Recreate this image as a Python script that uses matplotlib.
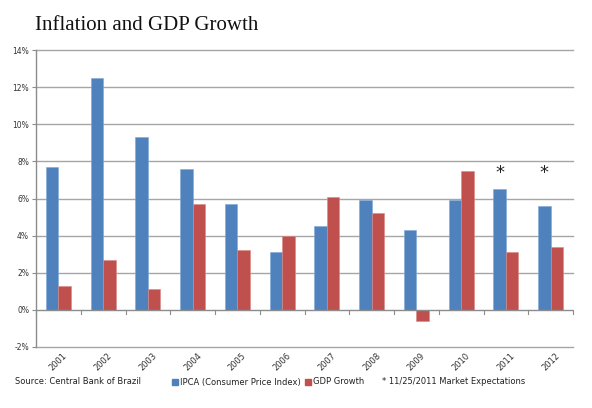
import matplotlib
matplotlib.use('Agg')
import matplotlib.pyplot as plt
import numpy as np

# data
years = ['2001', '2002', '2003', '2004', '2005', '2006',
         '2007', '2008', '2009', '2010', '2011', '2012']
ipca = [7.7, 12.5, 9.3, 7.6, 5.7, 3.1, 4.5, 5.9, 4.3, 5.9, 6.5, 5.6]
gdp = [1.3, 2.7, 1.1, 5.7, 3.2, 4.0, 6.1, 5.2, -0.6, 7.5, 3.1, 3.4]
expected = ['2011', '2012']
yticks = [-2, 0, 2, 4, 6, 8, 10, 12, 14]

blue = '#4F81BD'
red = '#C0504D'
grid = '#a6a6a6'

fig = plt.figure(figsize=(5.92, 4.08), dpi=100)
ax = fig.add_axes([36 / 592, 61 / 408, 537 / 592, 297 / 408])

x = np.arange(len(years))
w = 0.28
ax.bar(x - w / 2, ipca, w, color=blue, edgecolor='#7fa6d6', linewidth=0.4, zorder=3)
ax.bar(x + w / 2, gdp, w, color=red, edgecolor='#d98a88', linewidth=0.4, zorder=3)

# asterisks for market expectations
for i, y in enumerate(years):
    if y in expected:
        ax.text(x[i] - w / 2, 6.9, '*', ha='center', va='bottom',
                fontsize=13, family='DejaVu Sans', color='#222222')

ax.set_xlim(-0.5, len(years) - 0.5)
ax.set_ylim(-2, 14)
ax.set_yticks(yticks)
ax.set_yticklabels([f'{t}%' for t in yticks], fontsize=5.5, color='#333333')
for t in yticks:
    if t != 0:
        ax.axhline(t, color=grid, linewidth=1.0, zorder=1, clip_on=False)
ax.axhline(0, color='#8c8c8c', linewidth=1.0, zorder=4)
# category tick marks on the zero line
for b in np.arange(len(years) + 1) - 0.5:
    ax.plot([b, b], [0, -0.2], color='#8c8c8c', linewidth=0.8, zorder=4, clip_on=False)

ax.set_xticks(x)
ax.set_xticklabels(years, rotation=45, fontsize=6, color='#333333', ha='center')
ax.tick_params(axis='x', length=0, pad=3)
ax.tick_params(axis='y', length=3, width=0.8, color='#8c8c8c', pad=2)

for s in ['top', 'right', 'bottom']:
    ax.spines[s].set_visible(False)
ax.spines['left'].set_color('#8c8c8c')
ax.spines['left'].set_linewidth(1.0)

fig.text(35 / 592, 1 - 25 / 408, 'Inflation and GDP Growth', family='Liberation Serif',
         fontsize=15, va='center', ha='left', color='#111111')

ly = 1 - 382 / 408
fs = 6
fig.text(15 / 592, ly, 'Source: Central Bank of Brazil', fontsize=fs, va='center', color='#222222')
fig.patches.append(plt.Rectangle((172 / 592, ly - 3 / 408), 6 / 592, 6 / 408,
                                 color=blue, transform=fig.transFigure, figure=fig))
fig.text(180 / 592, ly, 'IPCA (Consumer Price Index)', fontsize=fs, va='center', color='#222222')
fig.patches.append(plt.Rectangle((305 / 592, ly - 3 / 408), 6 / 592, 6 / 408,
                                 color=red, transform=fig.transFigure, figure=fig))
fig.text(313 / 592, ly, 'GDP Growth', fontsize=fs, va='center', color='#222222')
fig.text(382 / 592, ly, '* 11/25/2011 Market Expectations', fontsize=fs, va='center', color='#222222')

fig.savefig('out.png', dpi=100)
